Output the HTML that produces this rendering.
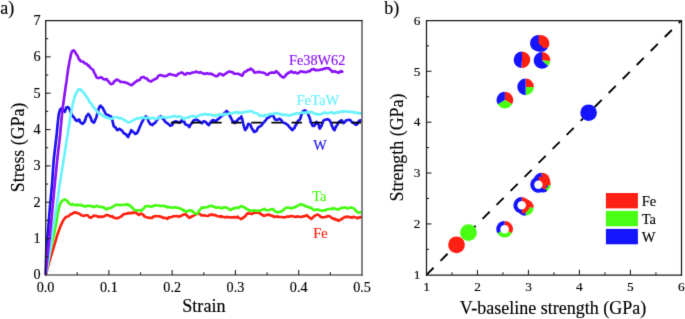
<!DOCTYPE html>
<html><head><meta charset="utf-8"><style>
html,body{margin:0;padding:0;background:#fff;width:685px;height:319px;overflow:hidden}
svg{display:block}
text{font-family:"Liberation Serif",serif;fill:#000;stroke:#000;stroke-width:0.15px}
</style></head><body>
<svg width="685" height="319" viewBox="0 0 685 319">
<defs><filter id="soft" filterUnits="userSpaceOnUse" x="0" y="0" width="685" height="319" color-interpolation-filters="sRGB"><feConvolveMatrix order="3" kernelMatrix="0.01000 0.08000 0.01000 0.08000 0.64000 0.08000 0.01000 0.08000 0.01000" preserveAlpha="false"/></filter></defs>
<g filter="url(#soft)">
<rect x="0" y="0" width="685" height="319" fill="#fff"/>
<text x="0.3" y="13.5" font-size="18">a)</text>
<text x="384.2" y="13.5" font-size="18">b)</text>
<g fill="none" stroke-linejoin="round" stroke-linecap="butt" stroke-width="2.65">
<polyline points="45.60,274.90 45.93,273.73 46.25,272.55 46.58,271.38 46.91,270.21 47.24,269.04 47.56,267.86 47.89,266.69 48.22,265.52 48.55,264.35 48.87,263.17 49.20,262.00 49.57,260.80 49.94,259.60 50.31,258.40 50.68,257.20 51.05,256.00 51.42,254.80 51.79,253.60 52.16,252.40 52.53,251.20 52.90,250.00 53.24,248.85 53.58,247.69 53.92,246.54 54.25,245.38 54.59,244.23 54.93,243.08 55.27,241.92 55.61,240.77 55.95,239.62 56.28,238.46 56.62,237.31 56.96,236.15 57.30,235.00 57.72,233.78 58.15,232.55 58.58,231.32 59.00,230.10 59.50,228.85 60.00,227.60 60.50,226.35 61.00,225.10 61.52,223.97 62.05,222.85 62.58,221.72 63.10,220.60 64.10,219.30 65.10,218.00 66.35,216.70 67.60,216.50 68.85,216.02 70.10,214.50 71.60,214.15 73.10,213.00 74.55,212.43 76.00,212.60 77.20,212.99 78.40,213.40 79.55,213.92 80.70,214.60 81.85,215.43 83.00,215.80 84.20,215.93 85.40,215.20 87.10,215.20 88.00,215.44 88.90,216.90 90.60,217.80 92.40,216.90 93.55,215.64 94.70,215.80 97.00,216.10 98.20,216.85 99.40,216.60 101.70,216.90 104.00,216.40 105.20,215.60 106.40,215.00 108.70,215.20 109.90,216.19 111.10,216.40 112.25,216.20 113.40,217.50 115.70,218.10 118.10,218.10 119.25,217.42 120.40,216.90 121.55,216.28 122.70,215.00 123.90,214.09 125.10,214.00 127.40,213.40 129.70,212.90 131.00,213.37 132.30,212.50 133.50,213.00 134.70,212.30 135.85,212.30 137.00,213.70 138.80,214.90 140.50,213.70 142.30,214.30 143.15,214.44 144.00,216.00 145.20,216.66 146.40,217.20 148.70,217.80 151.00,217.80 152.20,217.86 153.40,216.60 155.70,216.00 158.00,216.30 159.20,216.27 160.40,216.60 161.55,216.77 162.70,217.80 165.00,217.80 166.20,218.23 167.40,218.90 168.55,217.44 169.70,217.40 172.00,217.00 173.20,216.23 174.40,216.30 176.70,216.00 179.00,216.60 180.20,216.11 181.40,215.80 182.55,215.19 183.70,214.60 185.50,214.30 186.35,214.75 187.20,216.00 188.10,216.50 189.00,217.80 190.70,217.40 191.90,216.28 193.10,216.00 194.25,215.24 195.40,214.60 196.55,213.93 197.70,213.90 198.90,213.38 200.10,214.30 201.25,215.36 202.40,215.40 204.70,215.40 206.00,215.78 207.30,216.00 208.50,215.66 209.70,214.90 212.00,214.60 214.30,215.10 215.50,215.08 216.70,216.00 219.00,216.30 220.20,216.89 221.40,216.00 222.55,217.04 223.70,217.00 226.00,217.40 227.20,216.73 228.40,217.20 230.70,217.40 233.00,217.40 234.20,217.15 235.40,217.40 236.55,217.33 237.70,216.60 238.85,217.82 240.00,218.40 241.20,219.05 242.40,218.40 243.55,217.38 244.70,216.60 245.60,215.95 246.50,214.30 248.20,213.10 250.50,213.70 251.70,213.86 252.90,213.50 254.05,212.71 255.20,212.50 256.40,212.78 257.60,212.80 259.90,213.10 261.05,214.42 262.20,214.60 263.40,215.72 264.60,215.80 265.75,215.36 266.90,214.90 269.20,214.60 270.40,215.33 271.60,215.80 272.75,215.70 273.90,217.00 276.20,216.60 277.40,216.41 278.60,217.00 280.90,217.00 283.20,217.20 284.95,217.35 286.70,216.60 289.00,216.60 291.30,216.00 292.50,216.17 293.70,216.60 296.00,217.00 297.20,216.31 298.40,216.60 300.70,217.00 301.85,216.72 303.00,216.30 304.20,216.35 305.40,215.80 307.10,215.40 308.00,216.56 308.90,217.20 310.05,217.86 311.20,218.90 312.90,217.40 314.10,216.31 315.30,215.40 316.45,215.01 317.60,214.60 319.40,215.40 320.55,216.82 321.70,217.40 324.00,217.20 325.20,216.93 326.40,216.60 328.70,216.00 329.90,216.54 331.10,217.40 332.25,218.13 333.40,218.90 334.55,218.64 335.70,219.80 336.90,219.57 338.10,220.70 339.25,220.41 340.40,219.50 341.55,219.52 342.70,218.10 343.90,217.69 345.10,217.00 347.40,216.60 349.70,217.20 350.90,217.34 352.10,217.80 353.25,216.91 354.40,217.00 355.55,217.40 356.70,217.80 357.90,218.32 359.10,217.40 360.25,217.41 361.40,216.60" stroke="#ff2010"/>
<polyline points="45.60,274.90 45.82,273.71 46.05,272.53 46.27,271.34 46.50,270.16 46.72,268.97 46.94,267.79 47.17,266.60 47.39,265.41 47.61,264.23 47.84,263.04 48.06,261.86 48.29,260.67 48.51,259.49 48.73,258.30 48.96,257.11 49.18,255.93 49.40,254.74 49.63,253.56 49.85,252.37 50.08,251.19 50.30,250.00 50.60,248.75 50.90,247.50 51.20,246.25 51.50,245.00 51.80,243.75 52.10,242.50 52.40,241.25 52.70,240.00 53.00,238.75 53.30,237.50 53.60,236.25 53.90,235.00 54.14,233.82 54.37,232.64 54.61,231.45 54.85,230.27 55.08,229.09 55.32,227.91 55.55,226.73 55.79,225.55 56.03,224.36 56.26,223.18 56.50,222.00 56.69,220.71 56.87,219.43 57.06,218.14 57.24,216.86 57.43,215.57 57.61,214.29 57.80,213.00 58.10,211.70 58.40,210.40 58.70,209.10 59.00,207.80 59.30,206.50 59.83,205.10 60.37,203.70 60.90,202.30 61.85,201.35 62.80,200.40 64.80,199.40 66.00,200.05 67.20,200.70 68.10,202.53 69.00,203.00 70.05,204.47 71.10,204.60 72.40,203.98 73.70,204.70 76.00,205.30 77.20,204.68 78.40,205.30 80.70,204.70 81.85,205.65 83.00,205.60 84.20,206.35 85.40,206.40 87.70,205.80 90.00,205.80 91.20,206.35 92.40,206.40 94.70,207.00 95.85,206.11 97.00,205.80 98.20,206.46 99.40,206.80 101.70,206.80 102.85,207.36 104.00,207.60 105.20,208.62 106.40,209.40 107.55,208.39 108.70,208.40 109.90,208.05 111.10,207.90 112.25,206.99 113.40,206.40 114.55,205.88 115.70,204.70 118.10,204.70 120.40,205.30 122.70,204.70 125.10,204.70 127.40,204.10 128.55,205.29 129.70,205.00 130.57,206.61 131.43,206.93 132.30,207.80 133.50,208.92 134.70,210.20 137.00,210.40 139.30,210.20 140.50,210.15 141.70,210.80 142.85,208.90 144.00,208.40 145.20,206.54 146.40,206.10 148.70,206.10 151.00,206.70 152.20,206.35 153.40,206.10 154.55,205.43 155.70,205.30 158.00,205.50 159.20,205.62 160.40,206.10 162.70,205.70 165.00,206.10 166.20,207.09 167.40,206.90 169.70,207.30 172.00,207.80 173.20,207.59 174.40,207.30 176.70,207.60 179.00,208.10 180.20,208.64 181.40,209.00 182.55,209.50 183.70,210.80 184.90,210.64 186.10,211.90 187.25,211.09 188.40,210.80 190.70,210.40 191.90,210.61 193.10,211.90 194.25,212.82 195.40,213.70 197.20,213.70 198.05,213.00 198.90,210.80 200.05,209.71 201.20,208.10 202.40,207.37 203.60,207.60 205.90,207.50 207.50,206.90 209.70,206.10 212.00,205.70 213.15,206.79 214.30,206.70 215.50,207.60 216.70,207.60 219.00,207.30 220.20,208.05 221.40,208.10 222.55,208.31 223.70,207.30 226.00,207.30 227.20,208.24 228.40,208.40 229.55,209.58 230.70,209.90 231.85,208.93 233.00,208.40 234.20,208.82 235.40,207.80 237.70,207.60 238.85,207.84 240.00,206.70 241.20,206.04 242.40,206.40 243.55,207.23 244.70,207.30 245.85,208.47 247.00,209.00 248.20,209.64 249.40,210.40 251.70,210.80 252.90,210.65 254.10,210.40 256.40,210.80 258.70,210.80 259.90,210.49 261.10,210.20 262.80,209.60 264.60,208.80 265.75,210.14 266.90,210.20 269.20,210.00 270.40,209.60 271.60,209.20 273.30,209.00 274.20,210.70 275.10,211.40 276.25,211.63 277.40,212.30 279.70,211.90 280.85,211.92 282.00,210.80 283.15,210.40 284.30,208.80 285.50,208.14 286.70,207.60 289.00,207.80 291.30,208.40 292.50,207.95 293.70,207.30 294.85,207.48 296.00,206.40 297.20,206.19 298.40,205.30 299.55,204.78 300.70,204.30 301.85,204.38 303.00,205.30 304.20,205.44 305.40,206.10 307.70,206.70 308.85,207.45 310.00,207.60 311.20,207.80 312.40,209.00 313.55,210.06 314.70,209.90 317.00,209.60 318.20,209.55 319.40,210.20 321.70,210.80 324.00,210.20 325.20,210.52 326.40,209.60 328.70,209.20 329.90,208.71 331.10,208.80 332.25,209.14 333.40,208.10 334.55,208.76 335.70,208.80 336.90,209.21 338.10,209.60 339.25,209.03 340.40,208.40 342.70,207.80 343.90,207.78 345.10,207.30 346.25,207.98 347.40,208.40 349.70,207.80 350.90,207.52 352.10,207.80 353.25,207.96 354.40,209.00 355.55,210.22 356.70,211.40 357.90,212.50 359.10,212.30 361.40,212.50" stroke="#44fa10"/>
<polyline points="45.60,274.90 45.63,273.65 45.67,272.41 45.70,271.16 45.74,269.92 45.77,268.67 45.81,267.43 45.84,266.19 45.88,264.94 45.91,263.69 45.95,262.45 45.98,261.20 46.02,259.96 46.05,258.71 46.09,257.47 46.12,256.23 46.16,254.98 46.20,253.73 46.23,252.49 46.27,251.25 46.30,250.00 46.41,248.75 46.52,247.50 46.62,246.25 46.73,245.00 46.84,243.75 46.95,242.50 47.06,241.25 47.17,240.00 47.27,238.75 47.38,237.50 47.49,236.25 47.60,235.00 47.71,233.75 47.82,232.50 47.92,231.25 48.03,230.00 48.14,228.75 48.25,227.50 48.36,226.25 48.47,225.00 48.58,223.75 48.68,222.50 48.79,221.25 48.90,220.00 49.00,218.75 49.10,217.50 49.20,216.25 49.30,215.00 49.40,213.75 49.50,212.50 49.60,211.25 49.70,210.00 49.80,208.75 49.90,207.50 50.00,206.25 50.10,205.00 50.22,203.75 50.34,202.50 50.46,201.25 50.58,200.00 50.69,198.75 50.81,197.50 50.93,196.25 51.05,195.00 51.17,193.75 51.29,192.50 51.41,191.25 51.52,190.00 51.64,188.75 51.76,187.50 51.88,186.25 52.00,185.00 52.09,183.75 52.17,182.50 52.26,181.25 52.34,180.00 52.42,178.75 52.51,177.50 52.59,176.25 52.68,175.00 52.77,173.75 52.85,172.50 52.94,171.25 53.02,170.00 53.11,168.75 53.19,167.50 53.28,166.25 53.36,165.00 53.45,163.75 53.53,162.50 53.62,161.25 53.70,160.00 53.85,158.75 53.99,157.50 54.14,156.25 54.28,155.00 54.43,153.75 54.57,152.50 54.72,151.25 54.86,150.00 55.01,148.75 55.15,147.50 55.30,146.25 55.44,145.00 55.59,143.75 55.73,142.50 55.88,141.25 56.02,140.00 56.16,138.75 56.31,137.50 56.45,136.25 56.60,135.00 56.72,133.78 56.84,132.56 56.95,131.35 57.07,130.13 57.19,128.91 57.31,127.69 57.43,126.47 57.55,125.25 57.66,124.04 57.78,122.82 57.90,121.60 58.05,120.35 58.20,119.10 58.35,117.85 58.50,116.60 58.65,115.35 58.80,114.10 59.15,112.92 59.50,111.75 59.85,110.58 60.20,109.40 62.10,108.00 62.80,109.15 63.50,110.30 64.90,111.80 65.37,110.37 65.83,108.93 66.30,107.50 67.80,107.10 68.70,107.86 69.60,109.40 70.07,110.64 70.55,111.55 71.03,113.08 71.50,114.10 72.45,115.69 73.40,116.90 74.35,117.70 75.30,119.80 76.90,120.90 78.80,119.50 79.43,119.80 80.07,122.07 80.70,122.60 82.60,123.90 83.55,122.59 84.50,122.00 84.95,120.18 85.40,119.89 85.85,117.68 86.30,116.30 87.25,115.55 88.20,113.80 89.15,115.01 90.10,116.30 90.57,117.78 91.05,118.33 91.53,120.33 92.00,121.40 93.90,122.60 94.50,121.92 95.10,120.17 95.70,118.90 96.12,117.99 96.55,116.61 96.98,114.42 97.40,113.80 97.78,112.79 98.15,111.14 98.53,109.30 98.90,108.20 99.85,106.25 100.80,105.70 101.70,107.20 102.60,107.60 103.23,108.79 103.87,110.39 104.50,111.30 105.13,112.93 105.77,113.75 106.40,114.50 108.30,115.10 110.20,116.30 111.30,116.80 111.70,118.73 112.10,119.24 112.50,120.70 112.83,122.55 113.15,123.42 113.47,125.55 113.80,126.30 115.70,127.60 116.60,129.42 117.50,130.10 119.40,128.80 121.30,130.10 122.25,130.75 123.20,132.60 125.10,133.90 126.00,134.25 126.90,135.70 128.20,137.00 128.85,135.03 129.50,133.90 130.10,133.33 130.70,131.27 131.30,130.10 132.25,131.24 133.20,132.00 134.15,132.65 135.10,133.90 137.00,133.20 137.80,131.66 138.60,130.10 139.10,128.66 139.60,127.34 140.10,126.30 140.73,124.96 141.37,123.49 142.00,121.90 142.63,121.27 143.27,119.71 143.90,118.20 144.85,117.89 145.80,116.30 147.60,117.60 148.03,119.57 148.47,121.20 148.90,121.90 149.85,123.46 150.80,124.50 152.60,125.10 153.55,123.64 154.50,123.20 155.45,122.49 156.40,120.70 157.03,120.36 157.67,119.24 158.30,117.60 159.55,117.05 160.80,116.30 161.75,117.87 162.70,118.80 163.65,119.32 164.60,120.70 165.50,122.15 166.40,122.60 168.30,123.80 169.25,124.86 170.20,125.70 172.10,125.10 172.73,123.71 173.37,122.31 174.00,121.90 175.80,121.30 177.70,121.90 179.60,122.60 180.55,122.08 181.50,120.50 182.65,121.63 183.80,121.30 184.40,121.75 185.00,123.88 185.60,124.50 187.50,125.10 188.45,125.92 189.40,127.00 190.03,125.41 190.67,124.56 191.30,123.80 191.93,123.17 192.57,122.29 193.20,120.70 195.00,120.10 196.30,119.42 197.60,120.10 198.85,121.17 200.10,121.90 201.90,123.20 203.20,121.57 204.50,121.30 206.30,122.60 207.55,124.18 208.80,125.10 209.43,123.78 210.07,123.54 210.70,121.90 211.65,121.72 212.60,120.10 213.85,120.41 215.10,120.70 216.35,120.80 217.60,119.40 219.50,118.20 220.45,116.96 221.40,116.30 223.30,115.00 224.20,113.12 225.10,112.50 226.60,111.00 228.30,112.50 228.93,114.12 229.57,114.73 230.20,116.90 230.80,117.51 231.40,118.90 232.00,120.10 232.83,121.30 233.67,121.65 234.50,123.20 235.37,121.68 236.23,122.09 237.10,120.70 238.35,119.17 239.60,118.20 240.50,117.94 241.40,116.30 241.72,118.14 242.05,118.62 242.38,119.99 242.70,121.30 243.00,122.58 243.30,124.02 243.60,125.19 243.90,126.30 244.33,127.66 244.77,129.01 245.20,130.10 246.50,128.20 247.10,127.39 247.70,125.28 248.30,123.80 250.20,124.50 250.83,125.83 251.47,127.70 252.10,128.80 252.73,129.47 253.37,130.63 254.00,132.00 255.90,131.30 256.80,130.47 257.70,128.20 258.80,127.00 260.05,126.38 261.30,125.70 262.13,124.74 262.97,122.90 263.80,122.60 264.63,121.41 265.47,120.59 266.30,119.40 267.55,117.78 268.80,117.60 269.63,116.91 270.47,116.06 271.30,115.00 273.20,116.30 273.83,116.67 274.47,118.56 275.10,119.40 276.90,120.10 278.20,119.40 279.50,118.80 281.30,120.10 282.25,121.62 283.20,122.60 285.10,123.20 287.00,124.50 287.95,125.18 288.90,126.30 289.80,127.56 290.70,128.20 291.65,129.51 292.60,130.10 293.55,128.43 294.50,128.20 295.13,126.07 295.77,125.53 296.40,123.80 297.03,123.46 297.67,121.36 298.30,120.70 300.00,119.50 300.40,118.13 300.80,117.04 301.20,115.33 301.60,114.30 302.17,113.00 302.73,111.82 303.30,111.00 304.90,110.40 306.60,111.50 307.40,112.70 308.20,114.30 308.77,115.91 309.33,116.93 309.90,118.70 310.27,119.98 310.63,122.04 311.00,123.10 311.80,123.74 312.60,125.80 314.30,125.80 315.03,124.64 315.77,123.62 316.50,122.00 318.10,123.60 318.53,124.54 318.95,125.63 319.38,127.73 319.80,128.50 320.60,127.01 321.40,126.30 321.82,124.61 322.25,123.75 322.68,122.92 323.10,121.40 324.15,120.00 325.20,119.80 327.40,119.20 329.10,119.80 329.90,120.88 330.70,122.50 331.25,123.63 331.80,125.75 332.35,126.53 332.90,128.00 333.75,129.63 334.60,130.20 335.13,128.40 335.67,127.36 336.20,126.30 336.77,125.46 337.33,124.74 337.90,123.10 339.00,121.93 340.10,120.90 341.70,120.30 342.55,121.29 343.40,123.10 345.00,122.00 345.85,120.58 346.70,120.30 348.80,119.80 350.50,120.30 351.30,121.44 352.10,122.50 353.20,122.59 354.30,123.60 355.40,124.61 356.50,124.70 357.35,123.86 358.20,122.00 359.80,120.30 361.50,120.90" stroke="#1a12f0"/>
<line x1="170.9" y1="122.6" x2="361" y2="122.6" stroke="#000" stroke-width="1.8" stroke-dasharray="10.5 9.6" stroke-linecap="butt"/>
<polyline points="45.60,274.90 45.82,273.71 46.05,272.53 46.27,271.34 46.50,270.16 46.72,268.97 46.94,267.79 47.17,266.60 47.39,265.41 47.61,264.23 47.84,263.04 48.06,261.86 48.29,260.67 48.51,259.49 48.73,258.30 48.96,257.11 49.18,255.93 49.40,254.74 49.63,253.56 49.85,252.37 50.08,251.19 50.30,250.00 50.44,248.75 50.58,247.50 50.72,246.25 50.87,245.00 51.01,243.75 51.15,242.50 51.29,241.25 51.43,240.00 51.58,238.75 51.72,237.50 51.86,236.25 52.00,235.00 52.21,233.75 52.42,232.50 52.62,231.25 52.83,230.00 53.04,228.75 53.25,227.50 53.46,226.25 53.67,225.00 53.88,223.75 54.08,222.50 54.29,221.25 54.50,220.00 54.69,218.75 54.88,217.50 55.08,216.25 55.27,215.00 55.46,213.75 55.65,212.50 55.84,211.25 56.03,210.00 56.22,208.75 56.42,207.50 56.61,206.25 56.80,205.00 56.97,203.75 57.15,202.50 57.32,201.25 57.50,200.00 57.67,198.75 57.85,197.50 58.02,196.25 58.20,195.00 58.38,193.75 58.55,192.50 58.73,191.25 58.90,190.00 59.08,188.75 59.25,187.50 59.43,186.25 59.60,185.00 59.79,183.81 59.98,182.62 60.17,181.43 60.36,180.24 60.55,179.05 60.74,177.86 60.93,176.67 61.12,175.48 61.31,174.29 61.50,173.10 61.70,171.90 61.89,170.71 62.08,169.52 62.27,168.33 62.46,167.14 62.65,165.95 62.84,164.76 63.03,163.57 63.22,162.38 63.41,161.19 63.60,160.00 63.79,158.81 63.97,157.62 64.16,156.43 64.34,155.24 64.53,154.05 64.71,152.86 64.90,151.67 65.09,150.48 65.27,149.29 65.46,148.10 65.64,146.90 65.83,145.71 66.01,144.13 66.20,142.74 66.39,141.99 66.57,140.43 66.76,139.11 66.94,138.42 67.13,138.01 67.31,136.64 67.50,135.00 67.70,134.15 67.90,132.10 68.10,131.32 68.30,129.69 68.50,128.29 68.70,126.95 68.90,125.87 69.10,125.69 69.30,124.30 69.50,123.02 69.70,121.77 69.90,119.62 70.10,118.55 70.30,117.78 70.50,116.69 70.70,115.10 70.92,114.38 71.15,113.17 71.38,110.73 71.60,110.26 71.83,109.11 72.05,107.61 72.28,105.87 72.50,105.10 72.82,103.79 73.13,101.95 73.45,101.95 73.77,100.58 74.08,98.84 74.40,97.50 74.88,95.95 75.35,95.61 75.83,93.86 76.30,92.50 77.25,91.72 78.20,89.80 80.10,89.00 81.00,90.32 81.90,90.60 82.77,91.68 83.63,92.60 84.50,93.80 85.33,95.18 86.17,96.16 87.00,97.50 87.78,98.27 88.55,99.76 89.32,101.79 90.10,102.60 90.88,102.99 91.65,104.07 92.42,106.01 93.20,106.90 94.00,107.52 94.80,108.85 95.60,109.71 96.40,110.70 97.43,111.43 98.47,113.38 99.50,113.60 100.77,113.98 102.03,115.14 103.30,116.10 104.53,116.25 105.77,117.50 107.00,117.90 108.27,117.90 109.53,118.35 110.80,118.90 112.03,118.70 113.27,117.50 114.50,117.20 116.10,117.29 117.70,117.20 118.85,118.31 120.00,118.20 121.27,118.23 122.53,118.81 123.80,120.10 125.35,120.44 126.90,121.60 128.20,122.35 129.50,122.30 131.05,121.67 132.60,120.70 133.83,119.67 135.07,119.18 136.30,118.80 137.57,118.12 138.83,118.34 140.10,118.20 141.37,117.31 142.63,118.10 143.90,117.60 145.13,118.09 146.37,118.08 147.60,117.30 148.87,117.95 150.13,118.59 151.40,118.20 152.67,117.68 153.93,118.28 155.20,118.80 156.43,119.10 157.67,118.41 158.90,117.60 160.17,117.23 161.43,117.80 162.70,116.90 163.93,117.31 165.17,117.84 166.40,117.60 167.67,117.19 168.93,116.94 170.20,117.30 171.47,116.88 172.73,116.09 174.00,116.30 175.23,116.12 176.47,116.99 177.70,116.30 180.00,116.60 181.27,117.28 182.53,117.73 183.80,119.40 185.03,118.12 186.27,117.70 187.50,117.60 188.77,117.59 190.03,116.53 191.30,116.30 192.53,116.19 193.77,116.10 195.00,116.90 196.27,117.22 197.53,115.99 198.80,115.70 200.07,115.03 201.33,114.57 202.60,115.00 203.83,114.13 205.07,114.10 206.30,114.40 207.57,114.87 208.83,114.27 210.10,115.00 211.37,114.54 212.63,115.45 213.90,115.70 215.13,115.09 216.37,115.98 217.60,115.00 218.87,114.37 220.13,114.91 221.40,114.80 222.63,114.88 223.87,114.00 225.10,113.80 226.37,114.53 227.63,113.77 228.90,113.80 230.17,113.21 231.43,113.27 232.70,113.20 233.93,112.27 235.17,112.62 236.40,112.50 237.67,112.12 238.93,113.08 240.20,112.50 241.43,113.00 242.67,112.50 243.90,112.50 245.17,111.60 246.43,111.73 247.70,111.90 248.97,111.31 250.23,111.06 251.50,111.30 252.73,111.46 253.97,112.99 255.20,113.00 256.40,113.13 257.60,113.66 258.80,115.00 260.03,115.88 261.27,115.56 262.50,115.70 263.77,116.20 265.03,115.09 266.30,115.00 267.53,115.27 268.77,114.56 270.00,114.00 271.27,114.27 272.53,114.03 273.80,113.50 275.07,113.59 276.33,113.09 277.60,113.80 278.83,113.43 280.07,114.49 281.30,114.00 282.57,114.87 283.83,115.17 285.10,114.80 286.37,114.72 287.63,115.37 288.90,115.30 290.13,115.45 291.37,114.91 292.60,114.40 293.87,114.47 295.13,113.64 296.40,113.20 297.60,113.43 298.80,113.48 300.00,113.20 301.65,112.55 303.30,112.60 304.95,112.98 306.60,112.10 308.25,112.78 309.90,112.10 311.55,111.91 313.20,113.00 314.85,114.06 316.50,113.70 318.15,114.69 319.80,114.30 321.45,114.00 323.10,113.20 324.70,112.42 326.30,113.00 327.95,113.40 329.60,112.60 331.25,112.24 332.90,113.00 334.55,113.35 336.20,112.30 337.85,112.45 339.50,112.10 341.15,111.34 342.80,111.90 344.45,111.20 346.10,111.50 347.75,111.70 349.40,111.50 351.05,111.90 352.70,112.10 354.35,112.57 356.00,112.30 357.65,113.29 359.30,113.00 361.50,113.20" stroke="#68f2fc"/>
<polyline points="45.60,274.90 45.73,273.65 45.86,272.41 45.99,271.16 46.12,269.92 46.25,268.67 46.38,267.43 46.51,266.19 46.64,264.94 46.77,263.69 46.90,262.45 47.03,261.20 47.16,259.96 47.29,258.71 47.42,257.47 47.55,256.23 47.68,254.98 47.81,253.73 47.94,252.49 48.07,251.25 48.20,250.00 48.34,248.75 48.48,247.50 48.62,246.25 48.77,245.00 48.91,243.75 49.05,242.50 49.19,241.25 49.33,240.00 49.48,238.75 49.62,237.50 49.76,236.25 49.90,235.00 50.02,233.75 50.15,232.50 50.27,231.25 50.40,230.00 50.52,228.75 50.65,227.50 50.77,226.25 50.90,225.00 51.02,223.75 51.15,222.50 51.27,221.25 51.40,220.00 51.52,218.75 51.63,217.50 51.75,216.25 51.87,215.00 51.98,213.75 52.10,212.50 52.22,211.25 52.33,210.00 52.45,208.75 52.57,207.50 52.68,206.25 52.80,205.00 52.92,203.75 53.04,202.50 53.16,201.25 53.27,200.00 53.39,198.75 53.51,197.50 53.63,196.25 53.75,195.00 53.87,193.75 53.99,192.50 54.11,191.25 54.23,190.00 54.34,188.75 54.46,187.50 54.58,186.25 54.70,185.00 54.83,183.75 54.95,182.50 55.08,181.25 55.20,180.00 55.33,178.75 55.45,177.50 55.58,176.25 55.70,175.00 55.83,173.75 55.95,172.50 56.08,171.25 56.20,170.00 56.33,168.75 56.45,167.50 56.58,166.25 56.70,165.00 56.83,163.75 56.95,162.50 57.08,161.25 57.20,160.00 57.35,158.75 57.49,157.50 57.64,156.25 57.78,155.00 57.93,153.75 58.07,152.50 58.22,151.25 58.36,150.00 58.51,148.75 58.65,147.50 58.80,146.25 58.94,145.00 59.09,143.75 59.23,142.50 59.38,141.25 59.52,140.00 59.66,138.75 59.81,137.50 59.95,136.25 60.10,135.00 60.22,133.75 60.33,132.50 60.45,131.25 60.56,130.00 60.67,128.75 60.79,127.50 60.91,126.25 61.02,125.00 61.13,123.75 61.25,122.50 61.37,121.25 61.48,120.00 61.59,118.75 61.71,117.50 61.83,116.25 61.94,115.00 62.05,113.75 62.17,112.50 62.28,111.25 62.40,110.00 62.57,108.75 62.75,107.50 62.92,106.25 63.10,105.00 63.27,103.75 63.45,102.50 63.62,101.25 63.80,100.00 63.98,98.75 64.15,97.50 64.33,96.25 64.50,95.00 64.67,93.75 64.85,92.50 65.03,91.25 65.20,90.00 65.38,88.75 65.55,87.50 65.73,86.25 65.90,85.00 66.08,83.93 66.25,82.86 66.42,81.69 66.60,80.66 66.78,79.11 66.95,78.13 67.12,75.54 67.30,74.95 67.47,74.42 67.65,72.72 67.83,71.85 68.00,70.00 68.22,68.19 68.44,67.49 68.66,65.93 68.88,65.15 69.10,63.96 69.32,61.89 69.54,60.97 69.76,59.83 69.98,59.55 70.20,57.70 70.55,56.70 70.90,54.39 71.25,53.95 71.60,52.10 72.50,50.71 73.40,50.40 74.80,51.30 75.50,52.93 76.20,54.20 76.90,54.81 77.60,55.79 78.30,57.70 79.03,59.42 79.77,59.60 80.50,61.20 82.60,61.60 83.65,62.02 84.70,63.30 86.80,64.00 87.85,65.47 88.90,65.50 89.95,67.46 91.00,68.30 92.20,69.03 93.40,70.40 94.03,72.49 94.67,73.26 95.30,74.60 96.15,76.42 97.00,77.70 98.80,78.10 100.90,77.20 101.95,77.61 103.00,78.90 105.10,79.60 106.80,79.10 107.75,80.91 108.70,81.40 109.75,83.09 110.80,84.20 112.50,83.80 113.40,83.10 114.30,81.00 115.35,80.89 116.40,79.60 118.50,80.30 119.55,80.85 120.60,82.00 122.80,82.00 124.90,82.40 126.30,82.69 127.70,83.40 129.80,84.50 131.90,85.20 132.95,83.80 134.00,83.40 135.10,82.02 136.20,81.70 137.25,80.45 138.30,80.50 139.80,79.80 140.55,78.40 141.30,77.60 143.50,76.90 144.55,77.75 145.60,78.30 147.00,78.61 148.40,80.40 149.80,81.22 151.20,81.50 152.25,80.56 153.30,80.10 154.75,79.11 156.20,78.70 157.25,77.78 158.30,75.90 160.40,75.00 161.80,75.42 163.20,75.90 165.30,76.20 167.40,75.50 168.50,74.47 169.60,74.00 170.80,74.32 172.00,74.70 173.80,75.00 175.90,75.90 176.95,75.26 178.00,74.00 180.10,73.10 181.55,72.44 183.00,73.10 184.40,74.51 185.80,74.50 186.85,73.18 187.90,73.30 190.00,73.60 192.10,72.60 194.20,72.20 196.40,71.60 198.50,72.60 200.60,72.20 202.70,73.30 204.80,74.00 206.90,73.30 209.00,74.00 210.50,73.50 212.10,74.30 214.20,75.40 215.65,76.12 217.10,76.10 218.03,75.82 218.97,73.78 219.90,73.70 221.30,74.00 222.35,75.13 223.40,75.40 224.45,74.35 225.50,73.70 226.55,73.12 227.60,72.30 229.70,71.40 231.90,72.30 232.95,72.26 234.00,73.70 236.10,73.70 238.20,73.70 240.30,74.70 242.40,75.70 243.13,73.75 243.87,72.69 244.60,71.90 246.40,71.20 248.10,69.70 249.50,69.83 250.90,68.60 252.30,69.70 253.35,70.69 254.40,72.60 256.50,72.30 258.70,71.90 260.80,72.30 262.90,72.60 265.00,73.30 266.05,74.38 267.10,74.70 268.15,74.64 269.20,73.30 271.40,72.60 273.50,72.60 274.90,72.56 276.30,71.20 277.35,72.02 278.40,73.30 279.45,74.28 280.50,75.70 281.95,76.64 283.40,77.50 284.60,76.76 285.80,75.20 286.70,73.75 287.60,73.84 288.50,72.60 289.90,72.35 291.30,71.20 292.70,72.44 294.10,72.60 295.50,72.25 296.90,73.30 298.30,73.27 299.70,71.90 301.15,71.29 302.60,71.90 304.00,71.86 305.40,72.30 306.80,72.02 308.20,71.40 309.60,71.33 311.00,70.00 312.45,69.26 313.90,69.00 315.30,70.14 316.70,70.00 318.10,70.07 319.50,70.00 320.90,69.47 322.30,69.50 323.70,68.78 325.10,68.60 326.55,67.97 328.00,68.30 329.05,68.37 330.10,69.70 331.15,70.27 332.20,71.90 334.30,71.20 336.40,71.90 338.50,72.80 339.55,72.28 340.60,71.20 341.90,71.80 343.20,70.90" stroke="#8a12fa"/>
</g>
<g stroke="#222" stroke-width="1.1"><line x1="77.24" y1="274.9" x2="77.24" y2="272.29999999999995" /><line x1="108.88" y1="274.9" x2="108.88" y2="269.9" /><line x1="140.52" y1="274.9" x2="140.52" y2="272.29999999999995" /><line x1="172.16" y1="274.9" x2="172.16" y2="269.9" /><line x1="203.80" y1="274.9" x2="203.80" y2="272.29999999999995" /><line x1="235.44" y1="274.9" x2="235.44" y2="269.9" /><line x1="267.08" y1="274.9" x2="267.08" y2="272.29999999999995" /><line x1="298.72" y1="274.9" x2="298.72" y2="269.9" /><line x1="330.36" y1="274.9" x2="330.36" y2="272.29999999999995" /><line x1="45.6" y1="256.73" x2="48.2" y2="256.73" /><line x1="45.6" y1="238.56" x2="50.6" y2="238.56" /><line x1="45.6" y1="220.39" x2="48.2" y2="220.39" /><line x1="45.6" y1="202.22" x2="50.6" y2="202.22" /><line x1="45.6" y1="184.05" x2="48.2" y2="184.05" /><line x1="45.6" y1="165.88" x2="50.6" y2="165.88" /><line x1="45.6" y1="147.71" x2="48.2" y2="147.71" /><line x1="45.6" y1="129.54" x2="50.6" y2="129.54" /><line x1="45.6" y1="111.37" x2="48.2" y2="111.37" /><line x1="45.6" y1="93.20" x2="50.6" y2="93.20" /><line x1="45.6" y1="75.03" x2="48.2" y2="75.03" /><line x1="45.6" y1="56.86" x2="50.6" y2="56.86" /><line x1="45.6" y1="38.69" x2="48.2" y2="38.69" /><line x1="451.99" y1="274.8" x2="451.99" y2="272.2" /><line x1="426.5" y1="249.36" x2="429.1" y2="249.36" /><line x1="477.48" y1="274.8" x2="477.48" y2="269.8" /><line x1="426.5" y1="223.92" x2="431.5" y2="223.92" /><line x1="502.97" y1="274.8" x2="502.97" y2="272.2" /><line x1="426.5" y1="198.48" x2="429.1" y2="198.48" /><line x1="528.46" y1="274.8" x2="528.46" y2="269.8" /><line x1="426.5" y1="173.04" x2="431.5" y2="173.04" /><line x1="553.95" y1="274.8" x2="553.95" y2="272.2" /><line x1="426.5" y1="147.60" x2="429.1" y2="147.60" /><line x1="579.44" y1="274.8" x2="579.44" y2="269.8" /><line x1="426.5" y1="122.16" x2="431.5" y2="122.16" /><line x1="604.93" y1="274.8" x2="604.93" y2="272.2" /><line x1="426.5" y1="96.72" x2="429.1" y2="96.72" /><line x1="630.42" y1="274.8" x2="630.42" y2="269.8" /><line x1="426.5" y1="71.28" x2="431.5" y2="71.28" /><line x1="655.91" y1="274.8" x2="655.91" y2="272.2" /><line x1="426.5" y1="45.84" x2="429.1" y2="45.84" /></g>
<g stroke="#1a1a1a" stroke-linecap="square">
<line x1="45.7" y1="20.5" x2="362" y2="20.5" stroke-width="1.25"/>
<line x1="45.7" y1="20.5" x2="45.7" y2="275" stroke-width="1.25"/>
<line x1="362.0" y1="20.5" x2="362.0" y2="275" stroke-width="1.1"/>
<line x1="45.7" y1="275.0" x2="362" y2="275.0" stroke-width="1.1"/>
</g>
<text x="45.60" y="291.7" font-size="14.2" text-anchor="middle">0.0</text><text x="108.88" y="291.7" font-size="14.2" text-anchor="middle">0.1</text><text x="172.16" y="291.7" font-size="14.2" text-anchor="middle">0.2</text><text x="235.44" y="291.7" font-size="14.2" text-anchor="middle">0.3</text><text x="298.72" y="291.7" font-size="14.2" text-anchor="middle">0.4</text><text x="362.00" y="291.7" font-size="14.2" text-anchor="middle">0.5</text><text x="40.6" y="279.30" font-size="14.2" text-anchor="end">0</text><text x="40.6" y="242.96" font-size="14.2" text-anchor="end">1</text><text x="40.6" y="206.62" font-size="14.2" text-anchor="end">2</text><text x="40.6" y="170.28" font-size="14.2" text-anchor="end">3</text><text x="40.6" y="133.94" font-size="14.2" text-anchor="end">4</text><text x="40.6" y="97.60" font-size="14.2" text-anchor="end">5</text><text x="40.6" y="61.26" font-size="14.2" text-anchor="end">6</text><text x="40.6" y="24.92" font-size="14.2" text-anchor="end">7</text><text x="426.50" y="290.6" font-size="13.3" text-anchor="middle">1</text><text x="420.5" y="279.10" font-size="13.3" text-anchor="end">1</text><text x="477.48" y="290.6" font-size="13.3" text-anchor="middle">2</text><text x="420.5" y="228.22" font-size="13.3" text-anchor="end">2</text><text x="528.46" y="290.6" font-size="13.3" text-anchor="middle">3</text><text x="420.5" y="177.34" font-size="13.3" text-anchor="end">3</text><text x="579.44" y="290.6" font-size="13.3" text-anchor="middle">4</text><text x="420.5" y="126.46" font-size="13.3" text-anchor="end">4</text><text x="630.42" y="290.6" font-size="13.3" text-anchor="middle">5</text><text x="420.5" y="75.58" font-size="13.3" text-anchor="end">5</text><text x="681.40" y="290.6" font-size="13.3" text-anchor="middle">6</text><text x="420.5" y="24.70" font-size="13.3" text-anchor="end">6</text>
<text font-size="17.8" text-anchor="middle" transform="translate(23.6,147.5) rotate(-90)">Stress (GPa)</text>
<text x="203.9" y="311.6" font-size="18.1" text-anchor="middle">Strain</text>
<text x="289" y="64.9" font-size="14.3" style="fill:#8a12fa;stroke:#8a12fa">Fe38W62</text>
<text x="296.5" y="105.1" font-size="14.6" style="fill:#68f2fc;stroke:#68f2fc">FeTaW</text>
<text x="313.3" y="149.7" font-size="14.3" style="fill:#1a12f0;stroke:#1a12f0">W</text>
<text x="312.3" y="200.6" font-size="14.3" style="fill:#44fa10;stroke:#44fa10">Ta</text>
<text x="313.3" y="237.7" font-size="14.3" style="fill:#ff2010;stroke:#ff2010">Fe</text>
<line x1="426.5" y1="274.8" x2="681.4" y2="20.4" stroke="#000" stroke-width="1.9" stroke-dasharray="10 9.8"/>
<path d="M504.9,100.1 L504.90,91.80 A8.3,8.3 0 0 1 512.09,104.25 Z" fill="#ff2014"/><path d="M504.9,100.1 L512.09,104.25 A8.3,8.3 0 0 1 497.71,104.25 Z" fill="#48ff14"/><path d="M504.9,100.1 L497.71,104.25 A8.3,8.3 0 0 1 504.90,91.80 Z" fill="#1414ff"/><path d="M525.6,86.9 L525.60,78.60 A8.3,8.3 0 0 1 533.90,86.90 Z" fill="#ff2014"/><path d="M525.6,86.9 L533.90,86.90 A8.3,8.3 0 0 1 525.60,95.20 Z" fill="#48ff14"/><path d="M525.6,86.9 L525.60,95.20 A8.3,8.3 0 0 1 525.60,78.60 Z" fill="#1414ff"/><path d="M522.0,59.75 L522.00,51.45 A8.3,8.3 0 1 1 521.28,68.02 Z" fill="#ff2014"/><path d="M522.0,59.75 L521.28,68.02 A8.3,8.3 0 0 1 522.00,51.45 Z" fill="#1414ff"/><path d="M542.0,60.4 L542.00,52.10 A8.3,8.3 0 0 1 550.27,61.12 Z" fill="#ff2014"/><path d="M542.0,60.4 L550.27,61.12 A8.3,8.3 0 0 1 548.17,65.95 Z" fill="#48ff14"/><path d="M542.0,60.4 L548.17,65.95 A8.3,8.3 0 1 1 542.00,52.10 Z" fill="#1414ff"/><path d="M541.0,43.5 L541.00,35.20 A8.3,8.3 0 0 1 547.54,48.61 Z" fill="#ff2014"/><path d="M541.0,43.5 L547.54,48.61 A8.3,8.3 0 1 1 541.00,35.20 Z" fill="#1414ff"/><path d="M538.4,43.2 L538.40,34.90 A8.3,8.3 0 0 1 544.27,49.07 Z" fill="#ff2014"/><path d="M538.4,43.2 L544.27,49.07 A8.3,8.3 0 1 1 538.40,34.90 Z" fill="#1414ff"/><path d="M504.6,229.2 L504.60,220.90 A8.3,8.3 0 0 1 511.79,233.35 Z" fill="#ff2014"/><path d="M504.6,229.2 L511.79,233.35 A8.3,8.3 0 0 1 497.41,233.35 Z" fill="#48ff14"/><path d="M504.6,229.2 L497.41,233.35 A8.3,8.3 0 0 1 504.60,220.90 Z" fill="#1414ff"/><circle cx="504.6" cy="229.2" r="4.3" fill="#fff"/><path d="M525.4,207.5 L525.40,199.20 A8.3,8.3 0 0 1 533.69,207.79 Z" fill="#ff2014"/><path d="M525.4,207.5 L533.69,207.79 A8.3,8.3 0 0 1 525.69,215.79 Z" fill="#48ff14"/><path d="M525.4,207.5 L525.69,215.79 A8.3,8.3 0 1 1 525.40,199.20 Z" fill="#1414ff"/><path d="M521.7,205.3 L521.70,197.10 A8.2,8.2 0 1 1 521.41,213.50 Z" fill="#ff2014"/><path d="M521.7,205.3 L521.41,213.50 A8.2,8.2 0 0 1 521.70,197.10 Z" fill="#1414ff"/><circle cx="521.7" cy="205.3" r="4.25" fill="#fff"/><path d="M542.6,184.4 L542.60,176.30 A8.1,8.1 0 0 1 550.67,185.11 Z" fill="#ff2014"/><path d="M542.6,184.4 L550.67,185.11 A8.1,8.1 0 0 1 547.25,191.04 Z" fill="#48ff14"/><path d="M542.6,184.4 L547.25,191.04 A8.1,8.1 0 1 1 542.60,176.30 Z" fill="#1414ff"/><path d="M541.7,181.1 L541.70,172.80 A8.3,8.3 0 0 1 548.24,186.21 Z" fill="#ff2014"/><path d="M541.7,181.1 L548.24,186.21 A8.3,8.3 0 1 1 541.70,172.80 Z" fill="#1414ff"/><path d="M538.4,184.7 L538.68,176.60 A8.1,8.1 0 0 1 544.42,190.12 Z" fill="#ff2014"/><path d="M538.4,184.7 L544.42,190.12 A8.1,8.1 0 1 1 538.68,176.60 Z" fill="#1414ff"/><circle cx="538.4" cy="184.7" r="4.2" fill="#fff"/><circle cx="588.6" cy="112.7" r="8.3" fill="#1414ff"/><circle cx="468.5" cy="232.6" r="8.4" fill="#48ff14"/><circle cx="456.5" cy="244.8" r="8.4" fill="#ff2014"/>
<g stroke="#222" stroke-width="1.3">
</g>
<g stroke="#1a1a1a" stroke-linecap="square">
<line x1="426.5" y1="20.5" x2="681.5" y2="20.5" stroke-width="1.25"/>
<line x1="426.5" y1="20.5" x2="426.5" y2="275.1" stroke-width="1.25"/>
<line x1="681.5" y1="20.5" x2="681.5" y2="275.1" stroke-width="1.25"/>
<line x1="426.5" y1="275.15" x2="681.5" y2="275.15" stroke-width="1.15"/>
</g>
<text font-size="17.9" text-anchor="middle" transform="translate(403.4,147.5) rotate(-90)">Strength (GPa)</text>
<text x="553" y="314.2" font-size="18" text-anchor="middle">V-baseline strength (GPa)</text>
<rect x="605.9" y="193" width="32" height="15.4" fill="#ff2014"/>
<rect x="605.9" y="210.9" width="32" height="15.4" fill="#48ff14"/>
<rect x="605.9" y="228.9" width="32" height="15.4" fill="#1414ff"/>
<text x="641.7" y="206.1" font-size="14.5">Fe</text>
<text x="641.7" y="223.8" font-size="14.5">Ta</text>
<text x="641.7" y="242" font-size="14.5">W</text>
</g>
</svg>
</body></html>
